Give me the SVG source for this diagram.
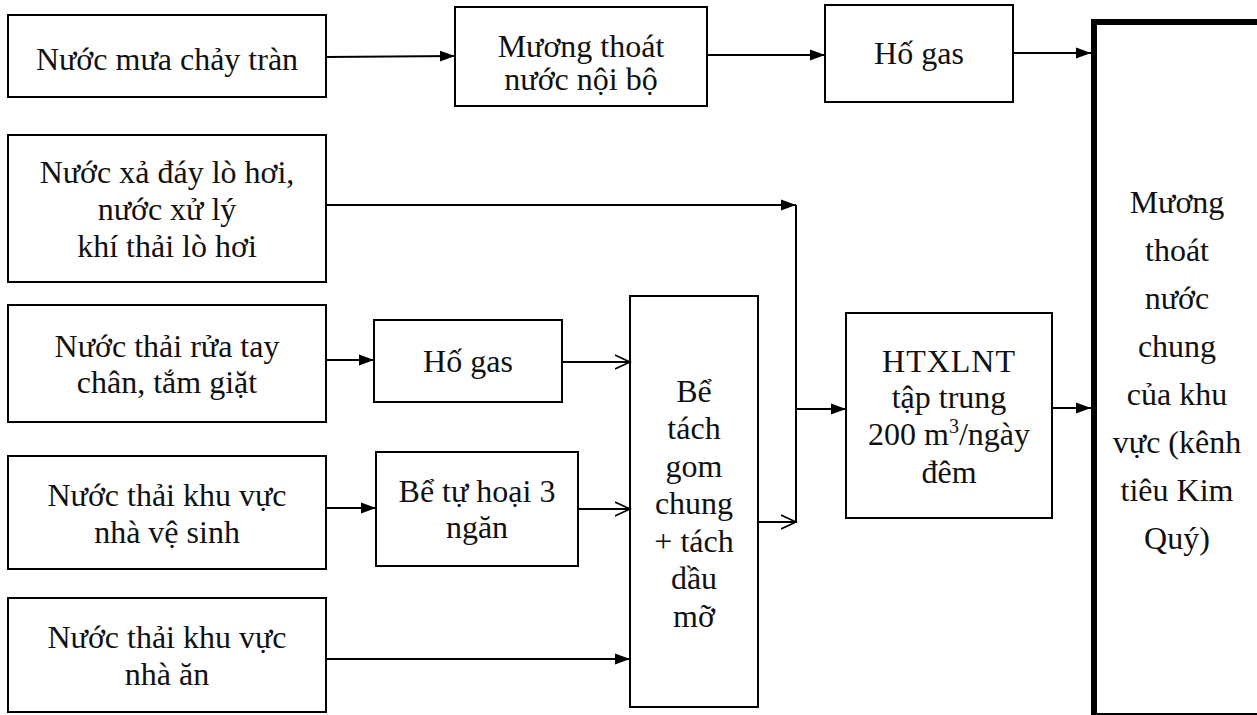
<svg xmlns="http://www.w3.org/2000/svg" width="1257" height="715" viewBox="0 0 1257 715">
<style>
.box{fill:#fff;stroke:#000;stroke-width:2}
.big{fill:#fff;stroke:#000;stroke-width:6}
.t{font-family:'Liberation Serif','Times New Roman','DejaVu Serif',serif;font-size:32px;fill:#111;text-anchor:middle}
.ln{stroke:#000;stroke-width:2;fill:none}
</style>
<defs>
<marker id="af" markerUnits="userSpaceOnUse" markerWidth="16" markerHeight="12" refX="15" refY="6" orient="auto"><path d="M0,0.5 L15,6 L0,11.5 z" fill="#000"/></marker>
<marker id="ao" markerUnits="userSpaceOnUse" markerWidth="18" markerHeight="18" refX="15" refY="9" orient="auto"><path d="M0,2 L15,9 L0,16" fill="none" stroke="#000" stroke-width="1.6"/></marker>
</defs>
<g font-family="Liberation Serif, Times New Roman, DejaVu Serif, serif">
<g id="n1"><rect class="box" x="8" y="15" width="318" height="82"/><text class="t" x="167" y="70">Nước mưa chảy tràn</text></g>
<g id="n2"><rect class="box" x="455" y="7" width="252" height="99"/><text class="t" x="581" y="57">Mương thoát</text><text class="t" x="581" y="90">nước nội bộ</text></g>
<g id="n3"><rect class="box" x="825" y="5" width="188" height="97"/><text class="t" x="919" y="64">Hố gas</text></g>
<g id="n4"><rect class="box" x="8" y="135" width="318" height="147"/><text class="t" x="167" y="183">Nước xả đáy lò hơi,</text><text class="t" x="167" y="220">nước xử lý</text><text class="t" x="167" y="257">khí thải lò hơi</text></g>
<g id="n5"><rect class="box" x="8" y="305" width="318" height="117"/><text class="t" x="167" y="357">Nước thải rửa tay</text><text class="t" x="167" y="393">chân, tắm giặt</text></g>
<g id="n6"><rect class="box" x="374" y="320" width="188" height="82"/><text class="t" x="468" y="372">Hố gas</text></g>
<g id="n7"><rect class="box" x="8" y="456" width="318" height="113"/><text class="t" x="167" y="506">Nước thải khu vực</text><text class="t" x="167" y="543">nhà vệ sinh</text></g>
<g id="n8"><rect class="box" x="376" y="452" width="202" height="114"/><text class="t" x="477" y="502">Bể tự hoại 3</text><text class="t" x="477" y="538">ngăn</text></g>
<g id="n9"><rect class="box" x="8" y="598" width="318" height="114"/><text class="t" x="167" y="648">Nước thải khu vực</text><text class="t" x="167" y="685">nhà ăn</text></g>
<g id="n10"><rect class="box" x="630" y="296" width="128" height="411"/><text class="t" x="694" y="402">Bể</text><text class="t" x="694" y="439">tách</text><text class="t" x="694" y="477">gom</text><text class="t" x="694" y="514">chung</text><text class="t" x="694" y="552">+ tách</text><text class="t" x="694" y="589">dầu</text><text class="t" x="694" y="627">mỡ</text></g>
<g id="n11"><rect class="box" x="846" y="313" width="206" height="205"/><text class="t" x="949" y="372" letter-spacing="1">HTXLNT</text><text class="t" x="949" y="408">tập trung</text><text class="t" x="949" y="445">200 m<tspan font-size="20" dy="-12">3</tspan><tspan dy="12">/ngày</tspan></text><text class="t" x="949" y="483">đêm</text></g>
<g id="n12"><rect class="big" x="1094" y="22" width="200" height="694"/><text class="t" x="1177" y="213">Mương</text><text class="t" x="1177" y="261">thoát</text><text class="t" x="1177" y="309">nước</text><text class="t" x="1177" y="357">chung</text><text class="t" x="1177" y="405">của khu</text><text class="t" x="1177" y="453">vực (kênh</text><text class="t" x="1177" y="501">tiêu Kim</text><text class="t" x="1177" y="549">Quý)</text></g>
</g>
<g id="connectors">
<line class="ln" x1="326" y1="57" x2="455" y2="56" marker-end="url(#af)"/>
<line class="ln" x1="707" y1="55" x2="825" y2="55" marker-end="url(#af)"/>
<line class="ln" x1="1013" y1="53" x2="1091" y2="53" marker-end="url(#af)"/>
<line class="ln" x1="326" y1="205" x2="796" y2="205" marker-end="url(#af)"/>
<line class="ln" x1="796" y1="205" x2="796" y2="523"/>
<line class="ln" x1="326" y1="360" x2="374" y2="360" marker-end="url(#af)"/>
<line class="ln" x1="562" y1="362" x2="630" y2="362" marker-end="url(#ao)"/>
<line class="ln" x1="326" y1="508" x2="376" y2="508" marker-end="url(#af)"/>
<line class="ln" x1="578" y1="509" x2="630" y2="509" marker-end="url(#ao)"/>
<line class="ln" x1="326" y1="659" x2="630" y2="659" marker-end="url(#af)"/>
<line class="ln" x1="758" y1="522" x2="796" y2="522" marker-end="url(#ao)"/>
<line class="ln" x1="796" y1="409" x2="846" y2="409" marker-end="url(#af)"/>
<line class="ln" x1="1052" y1="408" x2="1091" y2="408" marker-end="url(#af)"/>
</g>
</svg>
